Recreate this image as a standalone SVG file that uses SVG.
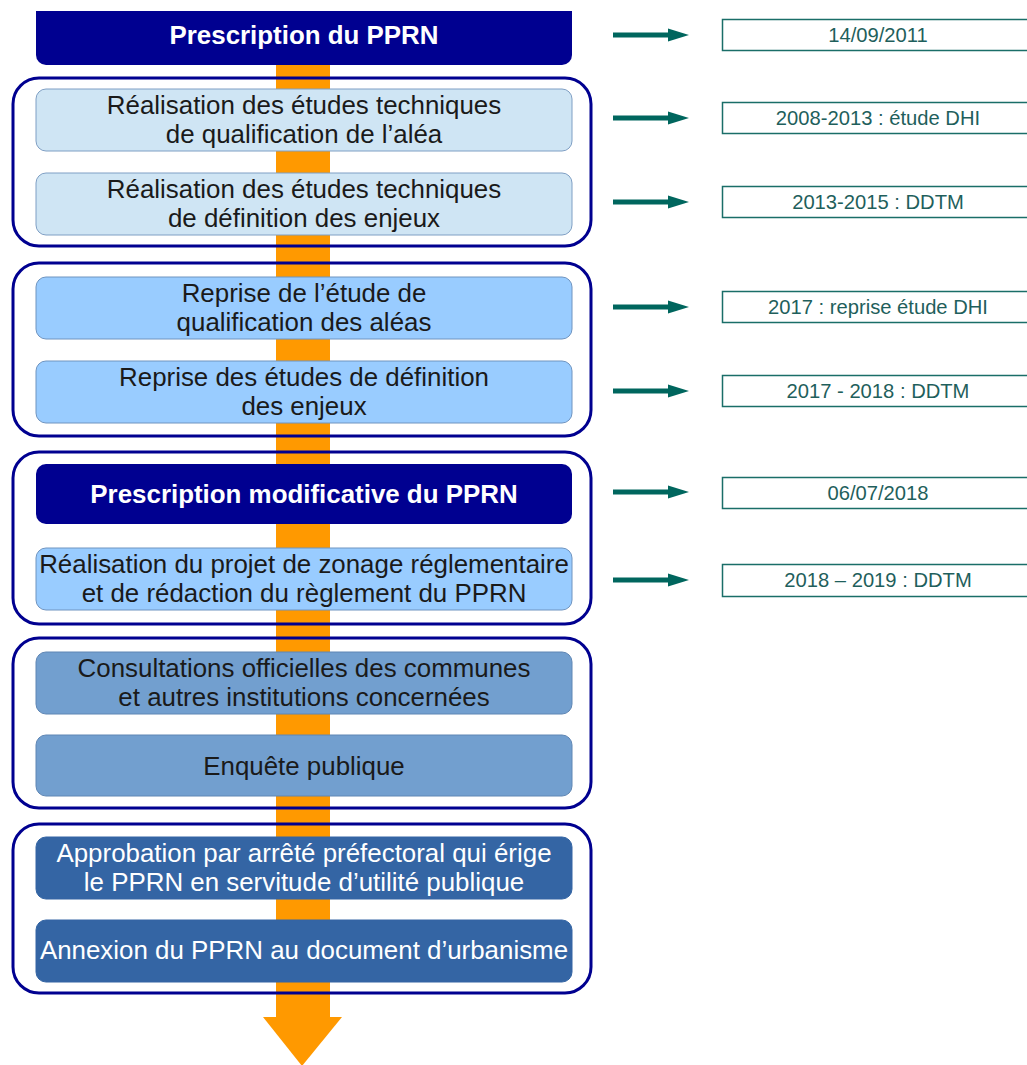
<svg xmlns="http://www.w3.org/2000/svg" width="1027" height="1065" viewBox="0 0 1027 1065">
<defs>
<style>
.grp{fill:none;stroke:#000090;stroke-width:3}
.b1{fill:#CFE5F4;stroke:#7F9FC4;stroke-width:1}
.b2{fill:#99CCFF;stroke:#6F94C0;stroke-width:1}
.b4{fill:#729FCF;stroke:#5F86B4;stroke-width:1}
.b5{fill:#3465A4;stroke:#3465A4;stroke-width:1}
.nav{fill:#000090}
.t{font-family:"Liberation Sans",Arial,sans-serif;font-size:25.9px;text-anchor:middle;fill:#1a1a1a}
.tw{fill:#ffffff}
.tb{font-weight:bold;fill:#ffffff}
.date{fill:#ffffff;stroke:#1A6E68;stroke-width:1.5}
.dt{font-family:"Liberation Sans",Arial,sans-serif;font-size:20.2px;text-anchor:middle;fill:#1F5F5C}
.arr{stroke:#00665E;stroke-width:5;fill:none}
.ah{fill:#00665E}
</style>
</defs>
<rect width="1027" height="1065" fill="#ffffff"/>
<g id="flow">
<rect x="276" y="60" width="54" height="958" fill="#FF9900"/>
<polygon points="263,1017 342,1017 302,1066" fill="#FF9900"/>
</g>
<g id="groups">
<rect id="grp1" class="grp" x="13" y="78" width="578" height="168" rx="26"/>
<rect id="grp2" class="grp" x="13" y="263" width="578" height="173" rx="26"/>
<rect id="grp3" class="grp" x="13" y="452" width="578" height="172" rx="26"/>
<rect id="grp4" class="grp" x="13" y="638" width="578" height="170" rx="26"/>
<rect id="grp5" class="grp" x="13" y="824" width="578" height="169" rx="26"/>
</g>
<g id="n0">
<path class="nav" d="M36,11 H572 V55 A10,10 0 0 1 562,65 H46 A10,10 0 0 1 36,55 Z"/>
<text class="t tb" x="304" y="44">Prescription du PPRN</text>
</g>
<g id="n1">
<rect class="b1" x="36" y="89" width="536" height="62" rx="10"/>
<text class="t" x="304" y="114">Réalisation des études techniques</text>
<text class="t" x="304" y="143">de qualification de l’aléa</text>
</g>
<g id="n2">
<rect class="b1" x="36" y="173" width="536" height="62" rx="10"/>
<text class="t" x="304" y="198">Réalisation des études techniques</text>
<text class="t" x="304" y="227">de définition des enjeux</text>
</g>
<g id="n3">
<rect class="b2" x="36" y="277" width="536" height="62" rx="10"/>
<text class="t" x="304" y="302">Reprise de l’étude de</text>
<text class="t" x="304" y="331">qualification des aléas</text>
</g>
<g id="n4">
<rect class="b2" x="36" y="361" width="536" height="62" rx="10"/>
<text class="t" x="304" y="386">Reprise des études de définition</text>
<text class="t" x="304" y="415">des enjeux</text>
</g>
<g id="n5">
<rect class="nav" x="36" y="464" width="536" height="60" rx="10"/>
<text class="t tb" x="304" y="503">Prescription modificative du PPRN</text>
</g>
<g id="n6">
<rect class="b2" x="36" y="548" width="536" height="62" rx="10"/>
<text class="t" x="304" y="573">Réalisation du projet de zonage réglementaire</text>
<text class="t" x="304" y="602">et de rédaction du règlement du PPRN</text>
</g>
<g id="n7">
<rect class="b4" x="36" y="652" width="536" height="62" rx="10"/>
<text class="t" x="304" y="677">Consultations officielles des communes</text>
<text class="t" x="304" y="706">et autres institutions concernées</text>
</g>
<g id="n8">
<rect class="b4" x="36" y="735" width="536" height="61" rx="10"/>
<text class="t" x="304" y="775">Enquête publique</text>
</g>
<g id="n9">
<rect class="b5" x="36" y="837" width="536" height="62" rx="10"/>
<text class="t tw" x="304" y="862">Approbation par arrêté préfectoral qui érige</text>
<text class="t tw" x="304" y="891">le PPRN en servitude d’utilité publique</text>
</g>
<g id="n10">
<rect class="b5" x="36" y="920" width="536" height="62" rx="10"/>
<text class="t tw" x="304" y="959">Annexion du PPRN au document d’urbanisme</text>
</g>
<g id="connectors">
<line class="arr" x1="613" y1="35" x2="670" y2="35"/><polygon class="ah" points="668,28.5 689,35 668,41.5"/>
<line class="arr" x1="613" y1="118" x2="670" y2="118"/><polygon class="ah" points="668,111.5 689,118 668,124.5"/>
<line class="arr" x1="613" y1="202" x2="670" y2="202"/><polygon class="ah" points="668,195.5 689,202 668,208.5"/>
<line class="arr" x1="613" y1="307" x2="670" y2="307"/><polygon class="ah" points="668,300.5 689,307 668,313.5"/>
<line class="arr" x1="613" y1="391" x2="670" y2="391"/><polygon class="ah" points="668,384.5 689,391 668,397.5"/>
<line class="arr" x1="613" y1="492" x2="670" y2="492"/><polygon class="ah" points="668,485.5 689,492 668,498.5"/>
<line class="arr" x1="613" y1="580" x2="670" y2="580"/><polygon class="ah" points="668,573.5 689,580 668,586.5"/>
</g>
<g id="d1"><rect class="date" x="722.5" y="19.5" width="320" height="31"/><text class="dt" x="878" y="42">14/09/2011</text></g>
<g id="d2"><rect class="date" x="722.5" y="102.5" width="320" height="31"/><text class="dt" x="878" y="125">2008-2013 : étude DHI</text></g>
<g id="d3"><rect class="date" x="722.5" y="186.5" width="320" height="31"/><text class="dt" x="878" y="209">2013-2015 : DDTM</text></g>
<g id="d4"><rect class="date" x="722.5" y="291.5" width="320" height="31"/><text class="dt" x="878" y="314">2017 : reprise étude DHI</text></g>
<g id="d5"><rect class="date" x="722.5" y="375.5" width="320" height="31"/><text class="dt" x="878" y="398">2017 - 2018 : DDTM</text></g>
<g id="d6"><rect class="date" x="722.5" y="477.5" width="320" height="31"/><text class="dt" x="878" y="500">06/07/2018</text></g>
<g id="d7"><rect class="date" x="722.5" y="564.5" width="320" height="32"/><text class="dt" x="878" y="587">2018 – 2019 : DDTM</text></g>
</svg>
